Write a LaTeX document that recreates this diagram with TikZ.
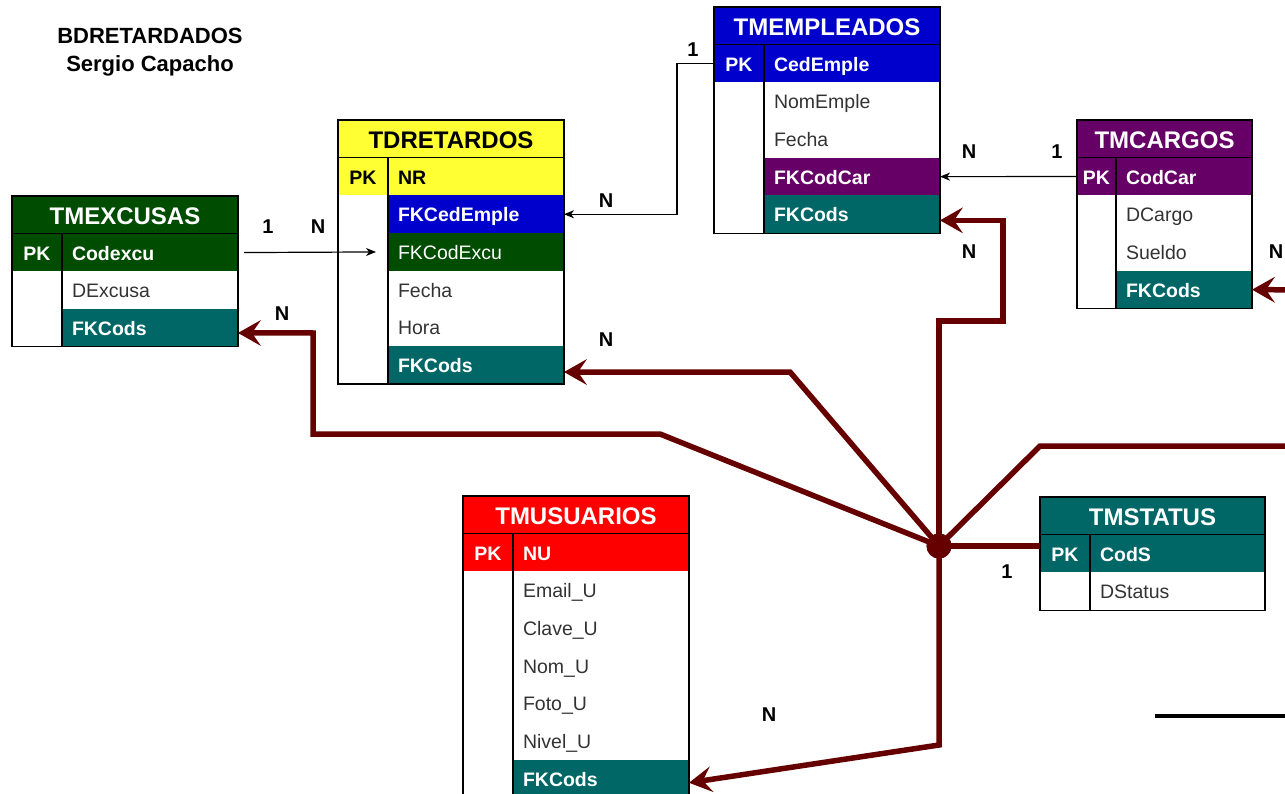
\documentclass[tikz,border=0pt]{standalone}
\usepackage{fontspec}
\setmainfont{Liberation Sans}
\usetikzlibrary{arrows.meta,positioning}

\definecolor{azul}{HTML}{0000CC}
\definecolor{amarillo}{HTML}{FFFF33}
\definecolor{verdeo}{HTML}{004C00}
\definecolor{morado}{HTML}{660066}
\definecolor{verdeazul}{HTML}{006666}
\definecolor{rojo}{HTML}{FF0000}
\definecolor{granate}{HTML}{660000}
\definecolor{gris}{HTML}{333333}

\tikzset{
  tabla/.style={minimum height=37.7, inner sep=0, outer sep=0, anchor=north west,
    text height=21, text depth=1, font=\bfseries\fontsize{24}{24}\selectfont, text=white},
  pkcol/.style={minimum width=#1, minimum height=37.7, inner sep=0, outer sep=0, anchor=north west,
    text height=17, text depth=2, font=\bfseries\fontsize{19.5}{20}\selectfont, text=white},
  pkcol/.default=50,
  campo/.style={text width=#1, inner xsep=10, inner ysep=0, minimum height=37.7, outer sep=0,
    anchor=north west, align=left, text height=17, text depth=2,
    font=\fontsize{19.5}{20}\selectfont, text=gris},
  campo/.default=156pt,
  clave/.style={font=\bfseries\fontsize{19.5}{20}\selectfont, text=white},
  borde/.style={draw=black, line width=1.2},
  fino/.style={draw=black, line width=1.2, -{Stealth[length=10, width=8, inset=3]}},
  rel/.style={draw=granate, line width=5.5},
  relfl/.style={rel, -{Stealth[length=23, width=26, inset=9, line width=0pt]}},
  card/.style={font=\bfseries\fontsize{20}{20}\selectfont, inner sep=0},
  hub/.style={circle, fill=granate, minimum size=25, inner sep=0}
}

\begin{document}
\begin{tikzpicture}[x=1pt, y=-1pt]
\useasboundingbox (0,0) rectangle (1285,794);
\clip (0,0) rectangle (1285,794);

%title
\node[font=\bfseries\fontsize{22}{22}\selectfont, anchor=base] (bd) at (150,44) {BDRETARDADOS};
\node[font=\bfseries\fontsize{22}{22}\selectfont, anchor=base] (autor) at (150,72) {Sergio Capacho};

%TMEMPLEADOS
\node[tabla, fill=azul, minimum width=226] (emp) at (714,7) {TMEMPLEADOS};
\node[pkcol, fill=azul] (emp-pk0) at (emp.south west) {PK};
\node[campo, clave, fill=azul] (emp-pk) at (emp-pk0.north east) {CedEmple};
\node[campo] (emp-1) at (emp-pk.south west) {NomEmple};
\node[campo] (emp-2) at (emp-1.south west) {Fecha};
\node[campo, clave, fill=morado] (emp-3) at (emp-2.south west) {FKCodCar};
\node[campo, clave, fill=verdeazul] (emp-4) at (emp-3.south west) {FKCods};
\draw[borde] (emp.north west) rectangle (emp-4.south east);
\draw[borde] (emp.south west) -- (emp.south east);
\draw[borde] (emp-pk.north west) -- (emp-4.south west);

%TDRETARDOS
\node[tabla, fill=amarillo, text=black, minimum width=226] (ret) at (338,120) {TDRETARDOS};
\node[pkcol, fill=amarillo, text=black] (ret-pk0) at (ret.south west) {PK};
\node[campo, clave, fill=amarillo, text=black] (ret-pk) at (ret-pk0.north east) {NR};
\node[campo, clave, fill=azul] (ret-1) at (ret-pk.south west) {FKCedEmple};
\node[campo, fill=verdeo, text=white] (ret-2) at (ret-1.south west) {FKCodExcu};
\node[campo] (ret-3) at (ret-2.south west) {Fecha};
\node[campo] (ret-4) at (ret-3.south west) {Hora};
\node[campo, clave, fill=verdeazul] (ret-5) at (ret-4.south west) {FKCods};
\draw[borde] (ret.north west) rectangle (ret-5.south east);
\draw[borde] (ret.south west) -- (ret.south east);
\draw[borde] (ret-pk.north west) -- (ret-5.south west);

%TMEXCUSAS
\node[tabla, fill=verdeo, minimum width=226] (exc) at (12,196) {TMEXCUSAS};
\node[pkcol, fill=verdeo] (exc-pk0) at (exc.south west) {PK};
\node[campo, clave, fill=verdeo] (exc-pk) at (exc-pk0.north east) {Codexcu};
\node[campo] (exc-1) at (exc-pk.south west) {DExcusa};
\node[campo, clave, fill=verdeazul] (exc-2) at (exc-1.south west) {FKCods};
\draw[borde] (exc.north west) rectangle (exc-2.south east);
\draw[borde] (exc.south west) -- (exc.south east);
\draw[borde] (exc-pk.north west) -- (exc-2.south west);

%TMCARGOS
\node[tabla, fill=morado, minimum width=175] (car) at (1077,120) {TMCARGOS};
\node[pkcol=39, fill=morado] (car-pk0) at (car.south west) {PK};
\node[campo=116pt, clave, fill=morado] (car-pk) at (car-pk0.north east) {CodCar};
\node[campo=116pt] (car-1) at (car-pk.south west) {DCargo};
\node[campo=116pt] (car-2) at (car-1.south west) {Sueldo};
\node[campo=116pt, clave, fill=verdeazul] (car-3) at (car-2.south west) {FKCods};
\draw[borde] (car.north west) rectangle (car-3.south east);
\draw[borde] (car.south west) -- (car.south east);
\draw[borde] (car-pk.north west) -- (car-3.south west);

%TMSTATUS
\node[tabla, fill=verdeazul, minimum width=225] (sta) at (1040,497) {TMSTATUS};
\node[pkcol, fill=verdeazul] (sta-pk0) at (sta.south west) {PK};
\node[campo=155pt, clave, fill=verdeazul] (sta-pk) at (sta-pk0.north east) {CodS};
\node[campo=155pt] (sta-1) at (sta-pk.south west) {DStatus};
\draw[borde] (sta.north west) rectangle (sta-1.south east);
\draw[borde] (sta.south west) -- (sta.south east);
\draw[borde] (sta-pk.north west) -- (sta-1.south west);

%TMUSUARIOS
\node[tabla, fill=rojo, minimum width=226] (usu) at (463,496) {TMUSUARIOS};
\node[pkcol, fill=rojo] (usu-pk0) at (usu.south west) {PK};
\node[campo, clave, fill=rojo] (usu-pk) at (usu-pk0.north east) {NU};
\node[campo] (usu-1) at (usu-pk.south west) {Email\_U};
\node[campo] (usu-2) at (usu-1.south west) {Clave\_U};
\node[campo] (usu-3) at (usu-2.south west) {Nom\_U};
\node[campo] (usu-4) at (usu-3.south west) {Foto\_U};
\node[campo] (usu-5) at (usu-4.south west) {Nivel\_U};
\node[campo, clave, fill=verdeazul] (usu-6) at (usu-5.south west) {FKCods};
\draw[borde] (usu.north west) rectangle (usu-6.south east);
\draw[borde] (usu.south west) -- (usu.south east);
\draw[borde] (usu-pk.north west) -- (usu-6.south west);

%thin relations
\draw[fino] (emp-pk0.west) -- ++(-37,0) |- (ret-1.east);
\draw[fino] (car-pk0.west) -- (emp-3.east);
\draw[fino] ([xshift=6]exc-pk.east) -- ([xshift=-12]ret-2.west);

%status relations
\node[hub] (hub) at (939,546) {};
\draw[rel] (hub.center) -- (hub.center -| sta-pk0.west);
\draw[relfl] (hub.center) -- ++(0,-225) -- ++(64,0) |- ([yshift=-6]emp-4.east);
\draw[relfl] (hub.center) -- (790,372) -- ([yshift=-7]ret-5.east);
\draw[relfl] (hub.center) -- (660,434) -- (313,434) -- (313,333) -- ([yshift=-5]exc-2.east);
\draw[relfl] (hub.center) -- (1040,446) -- (1330,446) -- (1330,290) -- (car-3.east);
\draw[relfl] (hub.center) -- (939,745) -- ([yshift=-4]usu-6.east);
\node[hub] (hub2) at (hub.center) {};

%loose line
\coordinate (suelto-a) at (1155,716);
\coordinate (suelto-b) at (1300,716);
\draw[line width=3.5] (suelto-a) -- (suelto-b);

%cardinalities
\node[card] (c1) at (693,50) {1};
\node[card] (c2) at (606,201) {N};
\node[card] (c3) at (969,152) {N};
\node[card] (c4) at (1057,152) {1};
\node[card] (c5) at (268,227) {1};
\node[card] (c6) at (318,227) {N};
\node[card] (c7) at (1007,572) {1};
\node[card] (c8) at (969,252) {N};
\node[card] (c9) at (606,340) {N};
\node[card] (c10) at (282,314) {N};
\node[card] (c11) at (1276,252) {N};
\node[card] (c12) at (769,715) {N};
\end{tikzpicture}
\end{document}
